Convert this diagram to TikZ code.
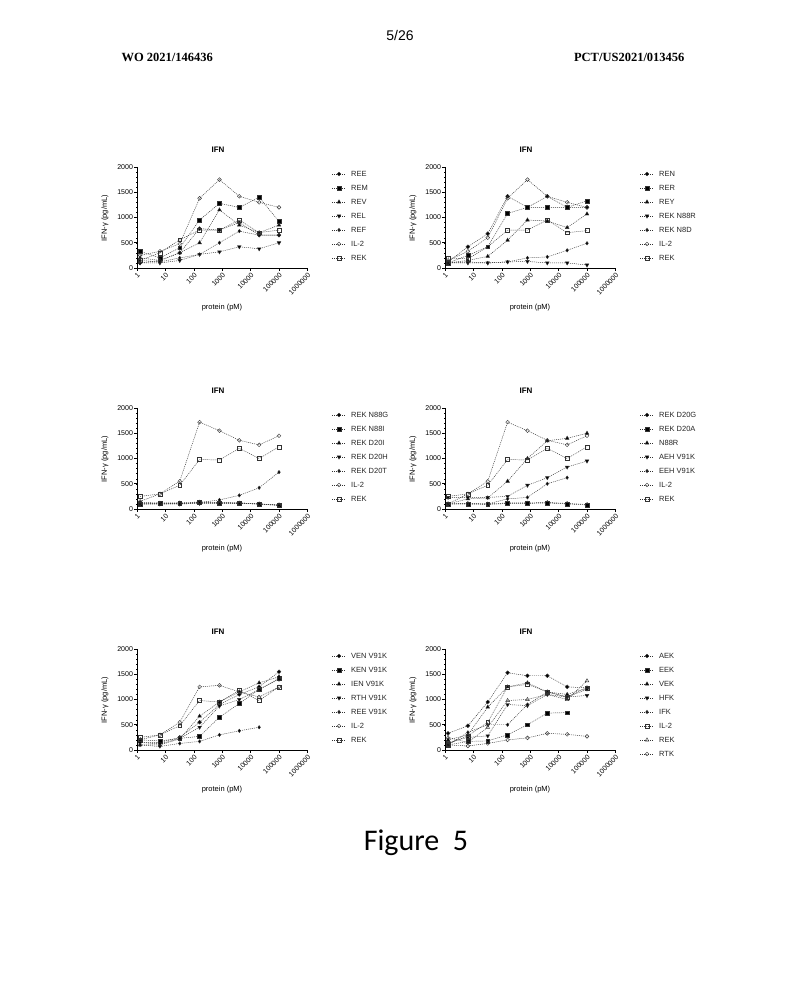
\documentclass[tikz,border=0pt]{standalone}
\usepackage{fontspec}
\setmainfont{Liberation Sans}
\newfontfamily\hdrfont{Liberation Serif}
\newfontfamily\figfont{Carlito}
\usetikzlibrary{plotmarks}

\tikzset{
  axis/.style={black, line width=0.55pt},
  ticklab/.style={font=\fontsize{7}{8}\selectfont, inner sep=0.8pt},
  axlab/.style={font=\fontsize{7.5}{8}\selectfont},
  ifntitle/.style={font=\bfseries\fontsize{8}{9}\selectfont},
  leglab/.style={font=\fontsize{7.5}{8}\selectfont, anchor=west, inner sep=0pt, text=black!85},
  hdr/.style={font=\hdrfont\bfseries\fontsize{12.5}{14}\selectfont},
  series/.style={black!80, line width=0.45pt, dash pattern=on 1pt off 1pt,
    mark size=1.9pt, mark options={solid, fill=black}},
  legline/.style={series},
  mkcirc/.style={mark=*},
  mksq/.style={mark=square*},
  mktri/.style={mark=triangle*, mark size=2.1pt},
  mkinv/.style={mark=triangle*, mark size=2.1pt, mark options={solid, fill=black, rotate=180}},
  mkdia/.style={mark=diamond*, mark size=1.7pt},
  mkocirc/.style={mark=o},
  mkosq/.style={mark=square},
  mkotri/.style={mark=triangle, mark size=2.1pt},
  panel/.style 2 args={xshift=#1pt, yshift=-#2pt, x=28.4pt, y=0.0505pt},
}

% axes, ticks and labels of one IFN panel
\newcommand\ifnaxes[1]{%
  \draw[axis] (0,2000) -- (0,0) -- (6,0);
  \foreach \v in {100,200,...,1900} \draw[axis, line width=0.3pt] (0,\v) -- ++(-1.2pt,0);
  \foreach \dec in {0,...,5} \foreach \m in {2,...,9}
    \draw[axis, line width=0.3pt] ({\dec+log10(\m)},0) -- ++(0,-1.2pt);
  \foreach \v [count=\i] in {0,500,1000,1500,2000}
    \draw[axis] (0,\v) -- ++(-3pt,0) node[ticklab, anchor=east] (#1y\i) {\v};
  \foreach \lab [count=\i] in {1,10,100,1000,10000,100000,1000000}
    \draw[axis] ({\i-1},0) -- ++(0,-3pt) node[ticklab, rotate=45, anchor=north east] (#1x\i) {\lab};
  \node[ifntitle] (#1title) at (81pt,118pt) {IFN};
  \node[axlab, rotate=90] (#1ylab) at (-32pt,50pt) {IFN-γ (pg/mL)};
  \node[axlab] (#1xlab) at (85pt,-40pt) {protein (pM)};
}
% legend: list of style/label
\newcommand\ifnlegend[2]{%
  \foreach \mk/\lab [count=\i] in {#2} {
    \pgfmathsetmacro\ly{108-14*\i}
    \draw[legline, \mk, mark indices={2}] plot coordinates {(195pt,\ly pt) (202pt,\ly pt) (209pt,\ly pt)};
    \node[leglab] (#1leg\i) at (214pt,\ly pt) {\lab};
  }}
% one series, 8 dilutions
\newcommand\ifnline[9]{\draw[series,#1] plot coordinates
  {(0.107,#2) (0.806,#3) (1.505,#4) (2.204,#5) (2.903,#6) (3.602,#7) (4.301,#8) (5,#9)};}

\begin{document}
\begin{tikzpicture}[x=1pt, y=-1pt]
\useasboundingbox (0,0) rectangle (800,1000);
\fill[white] (0,0) rectangle (800,1000);

\node[font=\fontsize{14}{16}\selectfont] (pagenum) at (400,35) {5/26};
\node[hdr, anchor=west] (pubno) at (118,57) {WO 2021/146436};
\node[hdr, anchor=east] (appno) at (688,57) {PCT/US2021/013456};

% top left
\begin{scope}[panel={137}{268}]
\ifnaxes{a}
\ifnline{mkcirc}{100}{150}{300}{780}{750}{900}{650}{650}
\ifnline{mksq}{330}{200}{400}{950}{1280}{1200}{1400}{920}
\ifnline{mktri}{200}{150}{300}{500}{1150}{850}{700}{850}
\ifnline{mkinv}{100}{100}{150}{270}{320}{420}{380}{500}
\ifnline{mkdia}{150}{120}{200}{270}{500}{730}{650}{650}
\ifnline{mkocirc}{250}{330}{480}{1380}{1750}{1420}{1300}{1200}
\ifnline{mkosq}{150}{300}{560}{750}{750}{950}{700}{750}
\ifnlegend{a}{mkcirc/REE, mksq/REM, mktri/REV, mkinv/REL, mkdia/REF, mkocirc/IL-2, mkosq/REK}
\end{scope}

% top right
\begin{scope}[panel={445}{268}]
\ifnaxes{b}
\ifnline{mkcirc}{120}{420}{680}{1420}{1200}{1420}{1200}{1200}
\ifnline{mksq}{100}{250}{420}{1080}{1200}{1200}{1200}{1330}
\ifnline{mktri}{100}{150}{230}{550}{950}{930}{800}{1070}
\ifnline{mkinv}{100}{100}{100}{120}{130}{100}{100}{60}
\ifnline{mkdia}{100}{120}{100}{120}{200}{220}{350}{490}
\ifnline{mkocirc}{150}{330}{600}{1380}{1750}{1420}{1300}{1200}
\ifnline{mkosq}{200}{180}{420}{750}{750}{950}{700}{740}
\ifnlegend{b}{mkcirc/REN, mksq/RER, mktri/REY, mkinv/REK N88R, mkdia/REK N8D, mkocirc/IL-2, mkosq/REK}
\end{scope}

% middle left
\begin{scope}[panel={137}{509}]
\ifnaxes{c}
\ifnline{mkcirc}{130}{120}{120}{140}{130}{120}{100}{80}
\ifnline{mksq}{100}{110}{110}{130}{120}{120}{100}{70}
\ifnline{mktri}{100}{100}{110}{120}{120}{110}{100}{80}
\ifnline{mkinv}{100}{100}{100}{110}{110}{110}{100}{70}
\ifnline{mkdia}{100}{100}{100}{130}{180}{270}{420}{730}
\ifnline{mkocirc}{150}{300}{550}{1720}{1550}{1360}{1270}{1450}
\ifnline{mkosq}{250}{300}{470}{980}{970}{1200}{1000}{1230}
\ifnlegend{c}{mkcirc/REK N88G, mksq/REK N88I, mktri/REK D20I, mkinv/REK D20H, mkdia/REK D20T, mkocirc/IL-2, mkosq/REK}
\end{scope}

% middle right
\begin{scope}[panel={445}{509}]
\ifnaxes{d}
\ifnline{mkcirc}{100}{110}{100}{120}{120}{130}{110}{90}
\ifnline{mksq}{100}{100}{90}{110}{110}{120}{100}{80}
\ifnline{mktri}{100}{200}{220}{550}{1000}{1350}{1400}{1500}
\ifnline{mkinv}{230}{230}{230}{250}{470}{620}{830}{950}
\draw[series, mkdia] plot coordinates {(0.107,100) (0.806,100) (1.505,100) (2.204,200) (2.903,230) (3.602,500) (4.301,620)};
\ifnline{mkocirc}{100}{300}{550}{1720}{1550}{1360}{1270}{1450}
\ifnline{mkosq}{250}{300}{470}{980}{970}{1200}{1000}{1230}
\ifnlegend{d}{mkcirc/REK D20G, mksq/REK D20A, mktri/N88R, mkinv/AEH V91K, mkdia/EEH V91K, mkocirc/IL-2, mkosq/REK}
\end{scope}

% bottom left
\begin{scope}[panel={137}{750}]
\ifnaxes{e}
\ifnline{mkcirc}{150}{150}{250}{550}{900}{1100}{1250}{1550}
\ifnline{mksq}{200}{180}{230}{270}{650}{920}{1200}{1420}
\ifnline{mktri}{100}{100}{220}{670}{950}{1150}{1330}{1450}
\ifnline{mkinv}{150}{120}{230}{450}{870}{1000}{1200}{1400}
\draw[series, mkdia] plot coordinates {(0.107,100) (0.806,70) (1.505,130) (2.204,170) (2.903,300) (3.602,380) (4.301,450)};
\ifnline{mkocirc}{200}{300}{550}{1250}{1280}{1150}{1050}{1250}
\ifnline{mkosq}{250}{300}{480}{980}{950}{1180}{980}{1250}
\ifnlegend{e}{mkcirc/VEN V91K, mksq/KEN V91K, mktri/IEN V91K, mkinv/RTH V91K, mkdia/REE V91K, mkocirc/IL-2, mkosq/REK}
\end{scope}

% bottom right
\begin{scope}[panel={445}{750}]
\ifnaxes{f}
\ifnline{mkcirc}{330}{480}{950}{1530}{1470}{1470}{1250}{1230}
\draw[series, mksq] plot coordinates {(0.107,100) (0.806,170) (1.505,180) (2.204,300) (2.903,500) (3.602,730) (4.301,740)};
\ifnline{mktri}{200}{300}{850}{1250}{1330}{1150}{1100}{1230}
\ifnline{mkinv}{150}{250}{280}{900}{880}{1100}{1050}{1080}
\ifnline{mkdia}{100}{350}{500}{500}{900}{1150}{1050}{1200}
\ifnline{mkosq}{120}{280}{550}{1250}{1300}{1150}{1050}{1230}
\ifnline{mkotri}{250}{150}{450}{980}{1000}{1100}{1000}{1370}
\ifnline{mkocirc}{100}{80}{130}{200}{240}{330}{310}{270}
\ifnlegend{f}{mkcirc/AEK, mksq/EEK, mktri/VEK, mkinv/HFK, mkdia/IFK, mkosq/IL-2, mkotri/REK, mkocirc/RTK}
\end{scope}

\node[font=\figfont\fontsize{30}{34}\selectfont] (figlabel) at (416,843) {Figure\ \ 5};
\end{tikzpicture}
\end{document}
